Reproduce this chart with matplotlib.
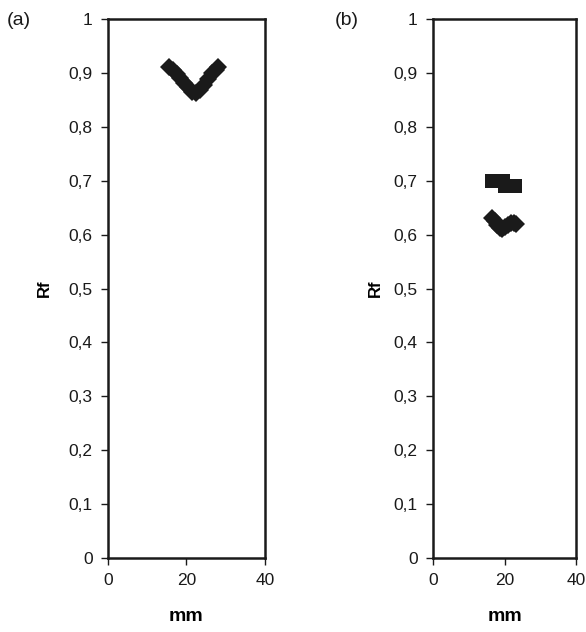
import numpy as np
import matplotlib.pyplot as plt
from matplotlib.ticker import FuncFormatter

plt.rcParams['font.family'] = ['Liberation Sans', 'DejaVu Sans']

# panel (a): diamond series
a_x = [15.5, 16.5, 17.5, 18.5, 19.5, 20.5, 21.5, 22.5, 23.5, 24.5, 25.5, 26.5, 27.5, 28.0]
a_y = [0.910, 0.905, 0.898, 0.890, 0.882, 0.873, 0.864, 0.862, 0.868, 0.878, 0.889, 0.899, 0.906, 0.910]

# panel (b): square series and diamond series
b_sq_x = [16.5, 17.5, 18.5, 19.5, 20.0, 21.0, 22.0, 23.0]
b_sq_y = [0.700, 0.700, 0.700, 0.700, 0.690, 0.690, 0.690, 0.690]
b_di_x = [16.5, 17.2, 18.0, 18.7, 19.4, 20.2, 21.0, 21.8, 22.6, 23.2]
b_di_y = [0.630, 0.625, 0.618, 0.612, 0.611, 0.614, 0.618, 0.622, 0.622, 0.620]

yticks = np.arange(0, 1.01, 0.1)
xticks = [0, 20, 40]

fig = plt.figure(figsize=(5.86, 6.32), dpi=100)
ax_a = fig.add_axes([0.184, 0.117, 0.268, 0.853])
ax_b = fig.add_axes([0.739, 0.117, 0.244, 0.853])

comma = FuncFormatter(lambda v, p: ('%g' % round(v, 2)).replace('.', ','))

for ax, lp in ((ax_a, 12), (ax_b, 8)):
    ax.set_xlim(0, 40)
    ax.set_ylim(0, 1)
    ax.set_xticks(xticks)
    ax.set_yticks(yticks)
    ax.yaxis.set_major_formatter(comma)
    for s in ax.spines.values():
        s.set_linewidth(1.8)
        s.set_color('#1a1a1a')
    ax.tick_params(direction='out', length=5, width=1, colors='#1a1a1a',
                   labelsize=12.5, pad=6)
    ax.set_xlabel('mm', fontsize=14, fontweight='bold', labelpad=14)
    ax.set_ylabel('Rf', fontsize=12, fontweight='bold', labelpad=lp)

ax_a.plot(a_x, a_y, 'D', color='#1a1a1a', markersize=9, markeredgewidth=0)
ax_b.plot(b_sq_x, b_sq_y, 's', color='#1a1a1a', markersize=10, markeredgewidth=0)
ax_b.plot(b_di_x, b_di_y, 'D', color='#1a1a1a', markersize=9, markeredgewidth=0)

fig.text(0.012, 0.968, '(a)', fontsize=14, va='center', ha='left', color='#1a1a1a')
fig.text(0.572, 0.968, '(b)', fontsize=14, va='center', ha='left', color='#1a1a1a')

fig.savefig('out.png', dpi=100)
